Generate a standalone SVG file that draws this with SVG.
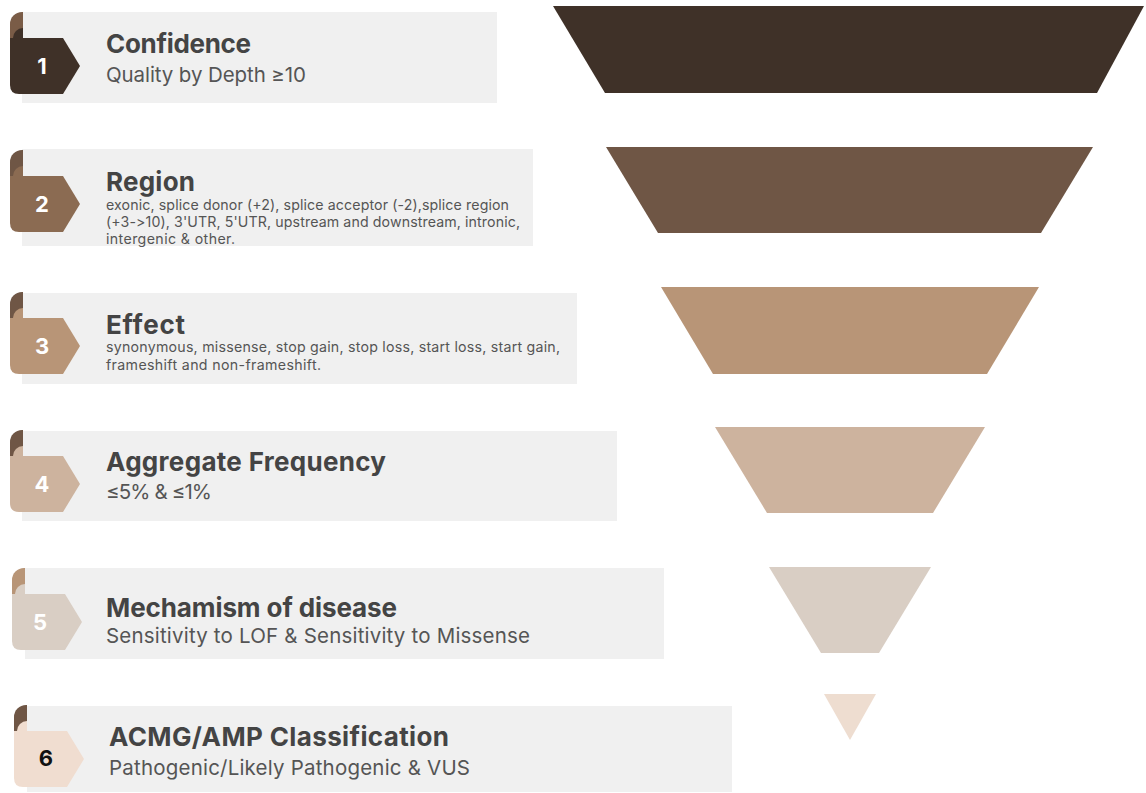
<svg xmlns="http://www.w3.org/2000/svg" width="1146" height="793" viewBox="0 0 1146 793">
  <defs>
    <style>
      .panel { fill: #f0f0f0; }
      text { font-family: Inter, "Liberation Sans", sans-serif; font-feature-settings: "calt" 0, "liga" 0; font-variant-ligatures: none; }
      .title { font-weight: 700; font-size: 26px; fill: #444444; }
      .sub { font-weight: 400; font-size: 20.5px; fill: #555555; }
      .small { font-weight: 400; font-size: 14.2px; fill: #555555; }
      .num { font-weight: 700; font-size: 22px; fill: #ffffff; text-anchor: middle; }
      .num.dark { fill: #111111; }
    </style>
    <!-- ribbon badge: folded tab, arrow body, curl where the fold meets the body -->
    <path id="tab" d="M0,12 A12,12 0 0 1 12,0 L13,0 L13,30 L0,30 Z"/>
    <path id="body" d="M1,26 L53,26 L70,54 L53,82 L9,82 Q0,82 0,73 L0,26 Z"/>
    <path id="curl" d="M13,16 A10,10 0 0 0 3,26 L13,26 Z"/>
  </defs>

  <rect width="1146" height="793" fill="#ffffff"/>

  <!-- funnel stages -->
  <g id="funnel">
    <polygon points="553,6 1144,6 1097,93 605,93" fill="#3f3128"/>
    <polygon points="606,147 1093,147 1041,233 658,233" fill="#6f5645"/>
    <polygon points="661,287 1039,287 987,374 713,374" fill="#b89577"/>
    <polygon points="715,427 985,427 933,513 767,513" fill="#cdb39e"/>
    <polygon points="769,567 931,567 879,653 821,653" fill="#d9cec4"/>
    <polygon points="824,694 876,694 850,740" fill="#eeddd0"/>
  </g>

  <!-- step 1 -->
  <g id="step1">
    <rect class="panel" x="22" y="12" width="475" height="91"/>
    <g transform="translate(10,12)">
      <use href="#tab" fill="#7a5c47"/>
      <use href="#body" fill="#3f3128"/>
      <use href="#curl" fill="#3f3128"/>
    </g>
    <text class="num" x="42" y="74">1</text>
    <text class="title" x="106" y="53" textLength="145">Confidence</text>
    <text class="sub" x="106" y="82" textLength="200">Quality by Depth ≥10</text>
  </g>

  <!-- step 2 -->
  <g id="step2">
    <rect class="panel" x="22" y="149" width="511" height="97"/>
    <g transform="translate(10,150)">
      <use href="#tab" fill="#6f5645"/>
      <use href="#body" fill="#8b6b52"/>
      <use href="#curl" fill="#8b6b52"/>
    </g>
    <text class="num" x="42" y="212">2</text>
    <text class="title" x="106" y="191" textLength="89">Region</text>
    <text class="small" x="106" y="210" textLength="403">exonic, splice donor (+2), splice acceptor (-2),splice region</text>
    <text class="small" x="106" y="227" textLength="414">(+3-&gt;10), 3'UTR, 5'UTR, upstream and downstream, intronic,</text>
    <text class="small" x="106" y="244" textLength="129">intergenic &amp; other.</text>
  </g>

  <!-- step 3 -->
  <g id="step3">
    <rect class="panel" x="22" y="293" width="555" height="91"/>
    <g transform="translate(10,292)">
      <use href="#tab" fill="#6f5645"/>
      <use href="#body" fill="#b89577"/>
      <use href="#curl" fill="#b89577"/>
    </g>
    <text class="num" x="42" y="354">3</text>
    <text class="title" x="106" y="334" textLength="79">Effect</text>
    <text class="small" x="106" y="352" textLength="454">synonymous, missense, stop gain, stop loss, start loss, start gain,</text>
    <text class="small" x="106" y="370" textLength="215">frameshift and non-frameshift.</text>
  </g>

  <!-- step 4 -->
  <g id="step4">
    <rect class="panel" x="22" y="431" width="595" height="90"/>
    <g transform="translate(10,430)">
      <use href="#tab" fill="#6f5645"/>
      <use href="#body" fill="#cdb39e"/>
      <use href="#curl" fill="#cdb39e"/>
    </g>
    <text class="num" x="42" y="492">4</text>
    <text class="title" x="106" y="471" textLength="280">Aggregate Frequency</text>
    <text class="sub" x="106" y="499" textLength="106">≤5% &amp; ≤1%</text>
  </g>

  <!-- step 5 -->
  <g id="step5">
    <rect class="panel" x="25" y="568" width="639" height="91"/>
    <g transform="translate(12,568)">
      <use href="#tab" fill="#b89577"/>
      <use href="#body" fill="#d9cec4"/>
      <use href="#curl" fill="#d9cec4"/>
    </g>
    <text class="num" x="40" y="630">5</text>
    <text class="title" x="106" y="617" textLength="291">Mechamism of disease</text>
    <text class="sub" x="106" y="643" textLength="424">Sensitivity to LOF &amp; Sensitivity to Missense</text>
  </g>

  <!-- step 6 -->
  <g id="step6">
    <rect class="panel" x="27" y="706" width="705" height="86"/>
    <g transform="translate(14,705)">
      <use href="#tab" fill="#6f5645"/>
      <use href="#body" fill="#f0ddd0"/>
      <use href="#curl" fill="#f0ddd0"/>
    </g>
    <text class="num dark" x="46" y="766">6</text>
    <text class="title" x="109" y="746" textLength="340">ACMG/AMP Classification</text>
    <text class="sub" x="109" y="775" textLength="361">Pathogenic/Likely Pathogenic &amp; VUS</text>
  </g>
</svg>
